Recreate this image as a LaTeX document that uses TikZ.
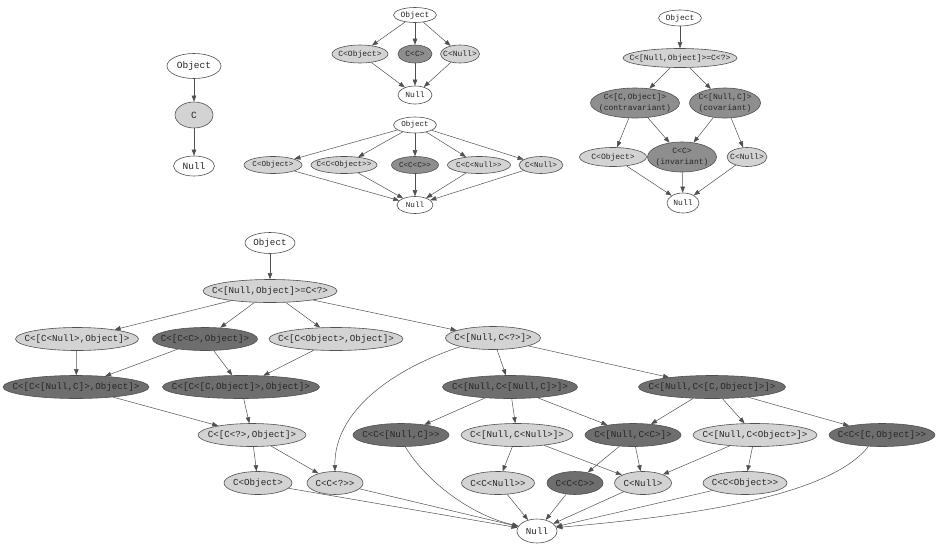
\documentclass[tikz,border=0pt]{standalone}
\usepackage{fontspec}
\setmonofont{Liberation Mono}
\usepackage{tikz}
\usetikzlibrary{arrows.meta,shapes.geometric}
\definecolor{cInk}{HTML}{262626}
\definecolor{cLine}{HTML}{505050}
\definecolor{cLight}{HTML}{D3D3D3}
\definecolor{cMid}{HTML}{8E8E8E}
\definecolor{cDark}{HTML}{6E6E6E}
\tikzset{
  gv/.style={ellipse, draw=cLine, line width=0.6pt, inner sep=0pt,
             minimum height=22pt},
  gvW/.style={gv, fill=white},
  gvL/.style={gv, fill=cLight},
  gvM/.style={gv, fill=cMid},
  gvD/.style={gv, fill=cDark},
  txt/.style={text=cInk, align=center, inner sep=0pt},
  lbl/.style={label={[txt]center:{#1}}},
  ar/.style={-{Triangle[length=6pt,width=4.5pt]}, cLine, line width=0.5pt}
}

\begin{document}
\begin{tikzpicture}[x=1pt, y=-1pt]
\useasboundingbox (0,0) rectangle (938,555);

% single class
\begin{scope}[font=\ttfamily\fontsize{9.5}{11}\selectfont]
\node[gvW, minimum width=54pt, minimum height=25pt, lbl={Object}] (aObj) at (194,66) {};
\node[gvL, minimum width=38pt, minimum height=26pt, lbl={C}] (aC) at (194,115) {};
\node[gvW, minimum width=41pt, minimum height=20pt, lbl={Null}] (aNull) at (194,166) {};
\draw[ar] (aObj) -- (aC);
\draw[ar] (aC) -- (aNull);
\end{scope}

% one level
\begin{scope}[font=\ttfamily\fontsize{8}{9.5}\selectfont]
\node[gvW, minimum width=43pt, minimum height=15pt, lbl={Object}] (bObj) at (415,15) {};
\node[gvL, minimum width=56pt, minimum height=18pt, lbl={C<Object>}] (bCO) at (360,54) {};
\node[gvM, minimum width=34pt, minimum height=18pt, lbl={C<C>}] (bCC) at (415,54) {};
\node[gvL, minimum width=39pt, minimum height=18pt, lbl={C<Null>}] (bCN) at (460,54) {};
\node[gvW, minimum width=34pt, minimum height=18pt, lbl={Null}] (bNull) at (415,95) {};
\foreach \n in {bCO,bCC,bCN}
  {\draw[ar] (bObj) -- (\n); \draw[ar] (\n) -- (bNull);}
\end{scope}

% two levels
\begin{scope}[font=\ttfamily\fontsize{7.6}{9}\selectfont]
\node[gvW, minimum width=43pt, minimum height=16pt, lbl={Object}] (cObj) at (415,125) {};
\node[gvL, minimum width=58pt, minimum height=17pt, lbl={C<Object>}] (cCO) at (273,165) {};
\node[gvL, minimum width=66pt, minimum height=17pt, lbl={C<C<Object>>}] (cCCO) at (344,165) {};
\node[gvM, minimum width=47pt, minimum height=17pt, lbl={C<C<C>>}] (cCCC) at (415,165) {};
\node[gvL, minimum width=63pt, minimum height=17pt, lbl={C<C<Null>>}] (cCCN) at (479,165) {};
\node[gvL, minimum width=44pt, minimum height=17pt, lbl={C<Null>}] (cCN) at (541,165) {};
\node[gvW, minimum width=36pt, minimum height=17pt, lbl={Null}] (cNull) at (415,205) {};
\foreach \n in {cCO,cCCO,cCCC,cCCN,cCN}
  {\draw[ar] (cObj) -- (\n); \draw[ar] (\n) -- (cNull);}
\end{scope}

% variance
\begin{scope}[font=\ttfamily\fontsize{8}{11}\selectfont]
\node[gvW, minimum width=43pt, minimum height=16pt, lbl={Object}] (dObj) at (680,18) {};
\node[gvL, minimum width=114pt, minimum height=19pt, lbl={C<[Null,Object]>=C<?>}] (dTop) at (680,58) {};
\node[gvM, minimum width=89pt, minimum height=30pt, lbl={C<[C,Object]>\\(contravariant)}] (dContra) at (635,103) {};
\node[gvM, minimum width=71pt, minimum height=30pt, lbl={C<[Null,C]>\\(covariant)}] (dCo) at (725,103) {};
\node[gvL, minimum width=67pt, minimum height=19pt, lbl={C<Object>}] (dCO) at (613,157) {};
\node[gvM, minimum width=69pt, minimum height=30pt, lbl={C<C>\\(invariant)}] (dInv) at (682,157) {};
\node[gvL, minimum width=40pt, minimum height=19pt, lbl={C<Null>}] (dCN) at (747,157) {};
\node[gvW, minimum width=32pt, minimum height=20pt, lbl={Null}] (dNull) at (683,203) {};
\foreach \a/\b in {dObj/dTop, dTop/dContra, dTop/dCo, dContra/dCO, dContra/dInv,
                   dCo/dInv, dCo/dCN, dCO/dNull, dInv/dNull, dCN/dNull}
  \draw[ar] (\a) -- (\b);
\end{scope}

% full lattice
\begin{scope}[font=\ttfamily\fontsize{9.2}{11}\selectfont, gv/.append style={minimum height=23pt}]
\node[gvW, minimum width=50pt, minimum height=21pt, lbl={Object}] (eObj) at (270,243) {};
\node[gvL, minimum width=134pt, lbl={C<[Null,Object]>=C<?>}] (eTop) at (270,291) {};
\node[gvL, minimum width=123pt, lbl={C<[C<Null>,Object]>}] (eCNO) at (77,339) {};
\node[gvD, minimum width=105pt, lbl={C<[C<C>,Object]>}] (eCCO) at (205,339) {};
\node[gvL, minimum width=134pt, lbl={C<[C<Object>,Object]>}] (eCOO) at (336,339) {};
\node[gvL, minimum width=95pt, lbl={C<[Null,C<?>]>}] (eNQ) at (493,338) {};
\node[gvD, minimum width=146pt, lbl={C<[C<[Null,C]>,Object]>}] (eCNCO) at (76,387) {};
\node[gvD, minimum width=157pt, lbl={C<[C<[C,Object]>,Object]>}] (eCCOO) at (241,387) {};
\node[gvD, minimum width=135pt, lbl={C<[Null,C<[Null,C]>]>}] (eNNC) at (510,387) {};
\node[gvD, minimum width=147pt, lbl={C<[Null,C<[C,Object]>]>}] (eNCO) at (712,387) {};
\node[gvL, minimum width=108pt, lbl={C<[C<?>,Object]>}] (eQO) at (252,435) {};
\node[gvD, minimum width=96pt, lbl={C<C<[Null,C]>>}] (eCCNC) at (401,435) {};
\node[gvL, minimum width=112pt, lbl={C<[Null,C<Null>]>}] (eNCN) at (517,435) {};
\node[gvD, minimum width=96pt, lbl={C<[Null,C<C>]>}] (eNCC) at (633,435) {};
\node[gvL, minimum width=124pt, lbl={C<[Null,C<Object>]>}] (eNCOb) at (755,435) {};
\node[gvD, minimum width=106pt, lbl={C<C<[C,Object]>>}] (eCCCO) at (882,435) {};
\node[gvL, minimum width=68pt, lbl={C<Object>}] (eCO) at (258,483) {};
\node[gvL, minimum width=56pt, lbl={C<C<?>>}] (eCCQ) at (335,483) {};
\node[gvL, minimum width=73pt, lbl={C<C<Null>>}] (eCCN) at (498,483) {};
\node[gvD, minimum width=56pt, lbl={C<C<C>>}] (eCCC) at (575,483) {};
\node[gvL, minimum width=57pt, lbl={C<Null>}] (eCN) at (643,483) {};
\node[gvL, minimum width=84pt, lbl={C<C<Object>>}] (eCCOb) at (745,483) {};
\node[gvW, minimum width=40pt, minimum height=24pt, lbl={Null}] (eNull) at (537,531) {};
\foreach \a/\b in {eObj/eTop, eTop/eCNO, eTop/eCCO, eTop/eCOO, eTop/eNQ,
                   eCNO/eCNCO, eCCO/eCNCO, eCCO/eCCOO, eCOO/eCCOO,
                   eCNCO/eQO, eCCOO/eQO, eNQ/eNNC, eNQ/eNCO,
                   eNNC/eCCNC, eNNC/eNCN, eNNC/eNCC, eNCO/eNCC, eNCO/eNCOb, eNCO/eCCCO,
                   eQO/eCO, eQO/eCCQ, eNCN/eCCN, eNCN/eCN, eNCC/eCCC, eNCC/eCN,
                   eNCOb/eCN, eNCOb/eCCOb,
                   eCO/eNull, eCCQ/eNull, eCCN/eNull, eCCC/eNull, eCN/eNull, eCCOb/eNull}
  \draw[ar] (\a) -- (\b);
\draw[ar] (eNQ.195) .. controls (395,368) and (334,410) .. (eCCQ.north);
\draw[ar] (eCCNC.290) .. controls (425,480) and (470,515) .. (eNull.165);
\draw[ar] (eCCCO.220) .. controls (830,495) and (700,515) .. (eNull.10);
\end{scope}
\end{tikzpicture}
\end{document}
